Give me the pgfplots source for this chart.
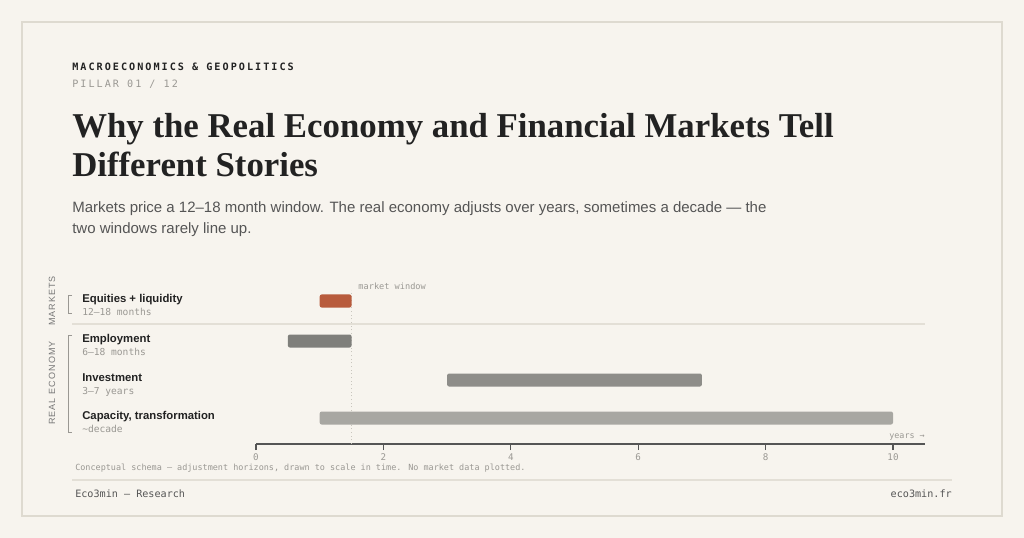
\documentclass[border=0pt]{standalone}
\usepackage{fontspec}
\usepackage{pgfplots}
\pgfplotsset{compat=1.18}
\setmainfont{Liberation Sans}
\newfontfamily\titlefont{Liberation Serif}
\newfontfamily\monof{DejaVu Sans Mono}
\newfontfamily\monosp[LetterSpace=20]{DejaVu Sans Mono}
\newfontfamily\sanssp[LetterSpace=12]{Liberation Sans}
\definecolor{bg}{HTML}{F7F4EE}
\definecolor{border}{HTML}{DEDAD0}
\definecolor{dark}{HTML}{222222}
\definecolor{subgray}{HTML}{555555}
\definecolor{mgray}{HTML}{9A9893}
\definecolor{axisgray}{HTML}{555555}
\definecolor{sepc}{HTML}{E3DFD6}
\definecolor{rust}{HTML}{B85B3C}
\definecolor{g1}{HTML}{7F7F7B}
\definecolor{g2}{HTML}{8E8D89}
\definecolor{g3}{HTML}{A8A7A2}
\definecolor{dotc}{HTML}{C9C6BE}
\begin{document}
\begin{tikzpicture}[x=0.75pt,y=-0.75pt]
\fill[bg] (0,0) rectangle (1024,538);
\useasboundingbox (0,0) rectangle (1024,538);
\draw[border, line width=1.1pt] (22,22) rectangle (1002,516);
% header
\node[anchor=base west, inner sep=0, text=dark] at (72,71) {\monosp\bfseries\fontsize{7.6}{9}\selectfont MACROECONOMICS \& GEOPOLITICS};
\node[anchor=base west, inner sep=0, text=mgray] at (72,88) {\monosp\fontsize{7.6}{9}\selectfont PILLAR 01 / 12};
\node[anchor=base west, inner sep=0, text=dark] at (72,138) {\titlefont\bfseries\fontsize{26.1}{29}\selectfont Why the Real Economy and Financial Markets Tell};
\node[anchor=base west, inner sep=0, text=dark] at (72,177) {\titlefont\bfseries\fontsize{26.1}{29}\selectfont Different Stories};
\node[anchor=base west, inner sep=0, text=subgray] at (72,213) {\fontsize{11.25}{14}\selectfont Markets price a 12–18 month window. The real economy adjusts over years, sometimes a decade — the};
\node[anchor=base west, inner sep=0, text=subgray] at (72,234) {\fontsize{11.25}{14}\selectfont two windows rarely line up.};
% axis
\begin{axis}[at={(192pt,-333pt)}, anchor=origin, x=47.775pt, y=0.75pt,
  xmin=0, xmax=10.5, ymin=0, ymax=160, clip=false,
  axis x line*=bottom, axis y line=none,
  axis line style={draw=axisgray, line width=1.1pt},
  xtick={0,2,4,6,8,10}, tick align=outside, major tick length=4.5pt,
  xtick style={draw=axisgray, line width=0.9pt},
  /pgf/number format/assume math mode=true,
  xticklabel style={font=\monof\fontsize{6.9}{8}\selectfont, text=mgray, yshift=0.5pt},
  ytick=\empty]
\addplot[draw=dotc, line width=0.75pt, dotted] coordinates {(1.5,0) (1.5,154)};
\addplot[fill=rust, draw=none, rounded corners=1.5pt] coordinates {(1,136.5) (1.5,136.5) (1.5,149.5) (1,149.5)} -- cycle;
\addplot[fill=g1, draw=none, rounded corners=1.5pt] coordinates {(0.5,96.5) (1.5,96.5) (1.5,109.5) (0.5,109.5)} -- cycle;
\addplot[fill=g2, draw=none, rounded corners=1.5pt] coordinates {(3,57.5) (7,57.5) (7,70.5) (3,70.5)} -- cycle;
\addplot[fill=g3, draw=none, rounded corners=1.5pt] coordinates {(1,19.5) (10,19.5) (10,32.5) (1,32.5)} -- cycle;
\node[anchor=base west, inner sep=0, text=mgray, font=\monof\fontsize{6.45}{8}\selectfont] at (axis cs:1.5,154) [xshift=5pt] {market window};
\end{axis}
% row labels
\node[anchor=base west, inner sep=0, text=dark] at (82,302) {\bfseries\fontsize{8.5}{10}\selectfont Equities + liquidity};
\node[anchor=base west, inner sep=0, text=mgray] at (82,315.5) {\monof\fontsize{7.2}{9}\selectfont 12–18 months};
\node[anchor=base west, inner sep=0, text=dark] at (82,342) {\bfseries\fontsize{8.5}{10}\selectfont Employment};
\node[anchor=base west, inner sep=0, text=mgray] at (82,355.5) {\monof\fontsize{7.2}{9}\selectfont 6–18 months};
\node[anchor=base west, inner sep=0, text=dark] at (82,381) {\bfseries\fontsize{8.5}{10}\selectfont Investment};
\node[anchor=base west, inner sep=0, text=mgray] at (82,394.5) {\monof\fontsize{7.2}{9}\selectfont 3–7 years};
\node[anchor=base west, inner sep=0, text=dark] at (82,419) {\bfseries\fontsize{8.5}{10}\selectfont Capacity, transformation};
\node[anchor=base west, inner sep=0, text=mgray] at (82,432.5) {\monof\fontsize{7.2}{9}\selectfont \textasciitilde decade};
% group labels
\node[rotate=90, inner sep=0, text=subgray!80] at (52,301) {\sanssp\fontsize{6.75}{8}\selectfont MARKETS};
\node[rotate=90, inner sep=0, text=subgray!80] at (52,383) {\sanssp\fontsize{6.75}{8}\selectfont REAL\hspace{3pt}ECONOMY};
\draw[mgray, line width=0.75pt] (72,295) -- (68,295) -- (68,313) -- (72,313);
\draw[mgray, line width=0.75pt] (72,335) -- (68,335) -- (68,432) -- (72,432);
\draw[sepc, line width=0.9pt] (72,324) -- (925,324);
\node[anchor=base east, inner sep=0, text=mgray] at (925,438) {\monof\fontsize{6.3}{8}\selectfont years →};
% footer
\node[anchor=base west, inner sep=0, text=mgray] at (75,470) {\monof\fontsize{6.35}{8}\selectfont Conceptual schema — adjustment horizons, drawn to scale in time. No market data plotted.};
\draw[sepc, line width=1.1pt] (72,480) -- (952,480);
\node[anchor=base west, inner sep=0, text=subgray] at (75,497.5) {\monof\fontsize{7.6}{9}\selectfont Eco3min — Research};
\node[anchor=base east, inner sep=0, text=subgray] at (952,497.5) {\monof\fontsize{7.6}{9}\selectfont eco3min.fr};
\end{tikzpicture}
\end{document}
